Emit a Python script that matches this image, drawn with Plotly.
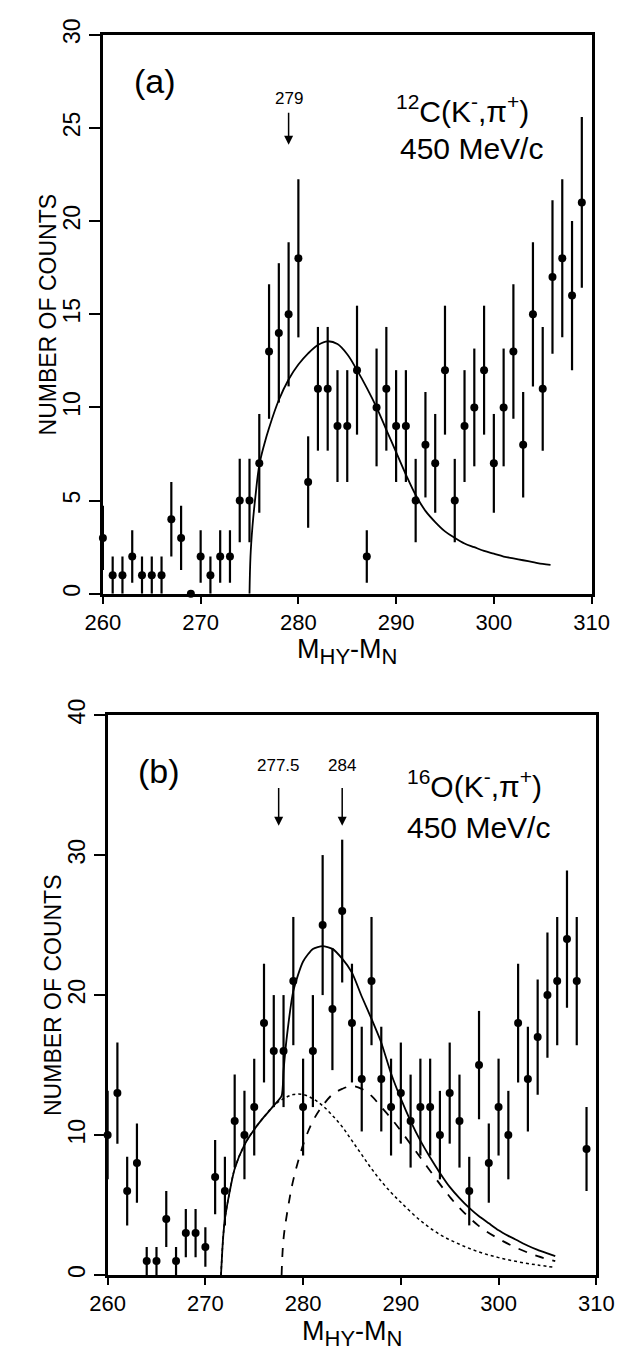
import plotly.graph_objects as go

# ---------------- Panel (a): 12C(K-,pi+) ----------------
mass_a = list(range(260, 310))
counts_a = [3, 1, 1, 2, 1, 1, 1, 4, 3, 0,
            2, 1, 2, 2, 5, 5, 7, 13, 14, 15,
            18, 6, 11, 11, 9, 9, 12, 2, 10, 11,
            9, 9, 5, 8, 7, 12, 5, 9, 10, 12,
            7, 10, 13, 8, 15, 11, 17, 18, 16, 21]
err_a = [1.73, 1, 1, 1.41, 1, 1, 1, 2, 1.73, 0,
         1.41, 1, 1.41, 1.41, 2.24, 2.24, 2.65, 3.61, 3.74, 3.87,
         4.24, 2.45, 3.32, 3.32, 3, 3, 3.46, 1.41, 3.16, 3.32,
         3, 3, 2.24, 2.83, 2.65, 3.46, 2.24, 3, 3.16, 3.46,
         2.65, 3.16, 3.61, 2.83, 3.87, 3.32, 4.12, 4.24, 4, 4.58]

fit_x_a = [275, 275.1, 275.3, 275.6, 276, 276.5, 277, 278, 279, 280, 281, 282, 283,
           284, 285, 286, 287, 288, 289, 290, 291, 292, 293, 294, 295, 296, 297,
           298, 299, 300, 301, 302, 303, 304, 305, 305.8]
fit_y_a = [0, 2.0, 3.6, 5.2, 6.9, 8.0, 8.9, 10.4, 11.5, 12.3, 12.9, 13.35, 13.55,
           13.4, 12.85, 12.0, 11.05, 10.0, 8.8, 7.6, 6.4, 5.3, 4.45, 3.85, 3.35, 3.0, 2.7,
           2.5, 2.3, 2.15, 2.0, 1.9, 1.8, 1.7, 1.6, 1.55]

# ---------------- Panel (b): 16O(K-,pi+) ----------------
mass_b = list(range(260, 310))
counts_b = [10, 13, 6, 8, 1, 1, 4, 1, 3, 3,
            2, 7, 6, 11, 10, 12, 18, 16, 16, 21,
            12, 16, 25, 19, 26, 18, 14, 21, 14, 12,
            13, 11, 12, 12, 10, 13, 11, 6, 15, 8,
            12, 10, 18, 14, 17, 20, 21, 24, 21, 9]
err_b = [3.16, 3.61, 2.45, 2.83, 1, 1, 2, 1, 1.73, 1.73,
         1.41, 2.65, 2.45, 3.32, 3.16, 3.46, 4.24, 4, 4, 4.58,
         3.46, 4, 5, 4.36, 5.1, 4.24, 3.74, 4.58, 3.74, 3.46,
         3.61, 3.32, 3.46, 3.46, 3.16, 3.61, 3.32, 2.45, 3.87, 2.83,
         3.46, 3.16, 4.24, 3.74, 4.12, 4.47, 4.58, 4.9, 4.58, 3]

total_x_b = [271.6, 271.8, 272, 272.5, 273, 274, 275, 276, 277, 277.8, 278.0, 278.3,
             279, 280, 281, 282, 283, 284, 285, 286, 287, 288, 289, 290, 291, 292,
             293, 294, 295, 296, 297, 298, 299, 300, 301, 302, 303, 304, 305, 305.8]
total_y_b = [0, 2.5, 4.0, 6.0, 7.6, 9.3, 10.4, 11.3, 12.1, 12.8, 14.6, 16.8,
             20.3, 22.4, 23.3, 23.5, 23.3, 22.6, 21.6, 19.9, 18.3, 16.6, 14.4, 12.6, 11.0, 9.6,
             8.4, 7.3, 6.3, 5.5, 4.8, 4.2, 3.7, 3.2, 2.8, 2.45, 2.1, 1.8, 1.55, 1.35]

comp1_x_b = [271.6, 271.8, 272, 272.5, 273, 274, 275, 276, 277, 278, 279, 280, 281, 282,
             283, 284, 285, 286, 287, 288, 289, 290, 292, 294, 296, 298, 300, 302, 304, 305.8]
comp1_y_b = [0, 2.5, 4.0, 6.0, 7.6, 9.3, 10.4, 11.3, 12.1, 12.6, 12.9, 12.9, 12.6, 12.1,
             11.4, 10.6, 9.6, 8.6, 7.6, 6.7, 5.9, 5.2, 3.9, 2.9, 2.2, 1.65, 1.25, 0.95, 0.72, 0.55]

comp2_x_b = [277.8, 278, 278.5, 279, 280, 281, 282, 283, 284, 285, 286, 287, 288,
             289, 290, 292, 294, 295, 296, 298, 300, 302, 304, 305.8]
comp2_y_b = [0, 2.6, 5.0, 6.8, 9.3, 11.0, 12.1, 12.9, 13.3, 13.5, 13.3, 12.8, 12.0,
             11.2, 10.3, 8.4, 6.5, 5.6, 4.8, 3.5, 2.6, 1.9, 1.35, 1.0]

FONT = "Liberation Sans, Arial, Helvetica, sans-serif"

fig = go.Figure()

def points(x, y, e, xa, ya):
    return go.Scatter(x=x, y=y, mode="markers", xaxis=xa, yaxis=ya,
                      marker=dict(color="black", size=8),
                      error_y=dict(type="data", array=e, visible=True,
                                   thickness=2.2, width=0, color="black"),
                      cliponaxis=False, showlegend=False)

fig.add_trace(points(mass_a, counts_a, err_a, "x", "y"))
fig.add_trace(go.Scatter(x=fit_x_a, y=fit_y_a, mode="lines", xaxis="x", yaxis="y",
                         line=dict(color="black", width=1.8, shape="spline"),
                         showlegend=False))

fig.add_trace(points(mass_b, counts_b, err_b, "x2", "y2"))
fig.add_trace(go.Scatter(x=total_x_b, y=total_y_b, mode="lines", xaxis="x2", yaxis="y2",
                         line=dict(color="black", width=1.8, shape="spline", smoothing=0.6),
                         showlegend=False))
fig.add_trace(go.Scatter(x=comp1_x_b, y=comp1_y_b, mode="lines", xaxis="x2", yaxis="y2",
                         line=dict(color="black", width=1.5, dash="dot", shape="spline"),
                         showlegend=False))
fig.add_trace(go.Scatter(x=comp2_x_b, y=comp2_y_b, mode="lines", xaxis="x2", yaxis="y2",
                         line=dict(color="black", width=1.8, dash="dash", shape="spline"),
                         showlegend=False))

W, H = 636, 1356
A_TOP, A_BOT, A_L, A_R = 19, 586, 90, 608
B_TOP, B_BOT, B_L, B_R = 709, 1277, 95, 613

def xax(domain, anchor):
    return dict(domain=domain, anchor=anchor, range=[260, 310],
                tickvals=[260, 270, 280, 290, 300, 310],
                ticks="outside", ticklen=7, tickwidth=1.5, tickcolor="black",
                showline=True, mirror=True, linewidth=2.5, linecolor="black",
                showgrid=False, zeroline=False,
                tickfont=dict(size=22, color="black", family=FONT))

def yax(domain, anchor, rng, dtick):
    return dict(domain=domain, anchor=anchor, range=rng, dtick=dtick,
                ticks="outside", ticklen=11, tickwidth=1.5, tickcolor="black",
                showline=True, mirror=True, linewidth=2.5, linecolor="black",
                showgrid=False, zeroline=False, tickangle=-90,
                tickfont=dict(size=23, color="black", family=FONT))

fig.update_layout(
    width=W, height=H, margin=dict(l=0, r=0, t=0, b=0),
    paper_bgcolor="white", plot_bgcolor="white",
    font=dict(family=FONT, color="black"),
    xaxis=xax([A_L / W, A_R / W], "y"),
    yaxis=yax([1 - A_BOT / H, 1 - A_TOP / H], "x", [0, 30], 5),
    xaxis2=xax([B_L / W, B_R / W], "y2"),
    yaxis2=yax([1 - B_BOT / H, 1 - B_TOP / H], "x2", [0, 40], 10),
)

XTITLE = ('M<sub><span style="font-size:22px">HY</span></sub>-'
          'M<sub><span style="font-size:22px">N</span></sub>')
YTITLE = "NUMBER OF COUNTS"

# axis titles (paper coordinates)
for (l, r, top, bot) in [(A_L, A_R, A_TOP, A_BOT), (B_L, B_R, B_TOP, B_BOT)]:
    fig.add_annotation(x=(l + r) / 2 / W, y=1 - (bot + 40) / H, xref="paper", yref="paper",
                       text=XTITLE, showarrow=False, xanchor="center", yanchor="top",
                       borderpad=0, font=dict(size=27, color="black", family=FONT))
    fig.add_annotation(x=(l - 58) / W, y=1 - (top + bot) / 2 / H, xref="paper", yref="paper",
                       text=YTITLE, showarrow=False, textangle=-90,
                       xanchor="center", yanchor="middle",
                       font=dict(size=23, color="black", family=FONT))

def txt(x, y, s, xr, yr, size, xanchor="center"):
    fig.add_annotation(x=x, y=y, xref=xr, yref=yr, text=s, showarrow=False,
                       xanchor=xanchor, yanchor="middle",
                       font=dict(size=size, color="black", family=FONT))

def arrow(x, y0, y1, xr, yr):
    fig.add_annotation(x=x, y=y1, ax=x, ay=y0, xref=xr, yref=yr, axref=xr, ayref=yr,
                       text="", showarrow=True, arrowhead=2, arrowsize=1.2,
                       arrowwidth=1.5, arrowcolor="black")

# panel (a) labels
txt(265.3, 27.5, "(a)", "x", "y", 34)
txt(279, 26.6, "279", "x", "y", 17)
arrow(279, 25.9, 24.1, "x", "y")
txt(289.8, 26.0, "<sup>12</sup>C(K<sup>-</sup>,π<sup>+</sup>)", "x", "y", 30, "left")
txt(305.2, 23.9, "450 MeV/c", "x", "y", 30, "right")

# panel (b) labels
txt(265.3, 36.0, "(b)", "x2", "y2", 34)
txt(277.5, 36.4, "277.5", "x2", "y2", 17)
arrow(277.5, 34.9, 32.1, "x2", "y2")
txt(284, 36.4, "284", "x2", "y2", 17)
arrow(284, 34.9, 32.1, "x2", "y2")
txt(290.4, 35.1, "<sup>16</sup>O(K<sup>-</sup>,π<sup>+</sup>)", "x2", "y2", 30, "left")
txt(305.5, 32.0, "450 MeV/c", "x2", "y2", 30, "right")

fig.write_html("out.html", config={"displayModeBar": False},
               post_script="document.body.style.margin='0px';")
